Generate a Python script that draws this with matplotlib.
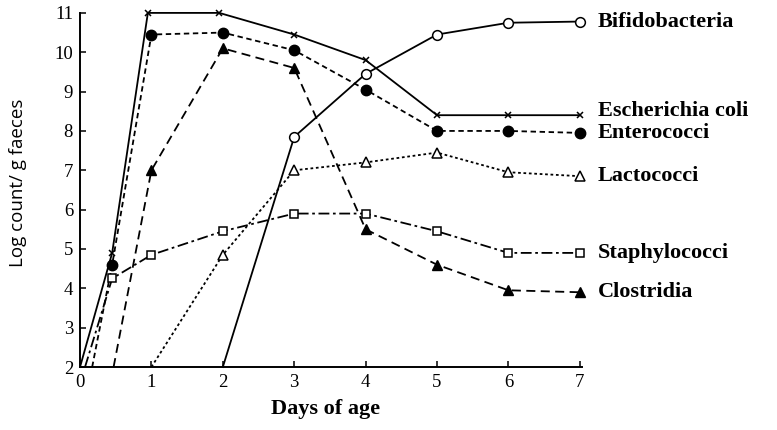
import matplotlib
matplotlib.use("Agg")
import matplotlib.pyplot as plt

plt.rcParams["font.family"] = ["Liberation Serif", "DejaVu Serif"]

# values (log count / g faeces)
bifido_x = [2, 3, 4, 5, 6, 7]
bifido_y = [2.0, 7.85, 9.45, 10.45, 10.75, 10.78]

ecoli_x = [0, 0.45, 0.95, 1.95, 3, 4, 5, 6, 7]
ecoli_y = [2.0, 4.9, 11.0, 11.0, 10.45, 9.8, 8.4, 8.4, 8.4]

entero_x = [0.17, 0.45, 1, 2, 3, 4, 5, 6, 7]
entero_y = [2.0, 4.6, 10.45, 10.5, 10.05, 9.05, 8.0, 8.0, 7.95]

lacto_x = [1, 2, 3, 4, 5, 6, 7]
lacto_y = [2.0, 4.85, 7.0, 7.2, 7.45, 6.95, 6.85]

staph_x = [0.07, 0.45, 1, 2, 3, 4, 5, 6, 7]
staph_y = [2.0, 4.25, 4.85, 5.45, 5.9, 5.9, 5.45, 4.9, 4.9]

clos_x = [0.47, 1, 2, 3, 4, 5, 6, 7]
clos_y = [2.0, 7.0, 10.1, 9.6, 5.5, 4.6, 3.95, 3.9]

names = ["Bifidobacteria", "Escherichia coli", "Enterococci",
         "Lactococci", "Staphylococci", "Clostridia"]

fig = plt.figure(figsize=(7.77, 4.30), dpi=100)
ax = fig.add_axes([0.103, 0.1465, 0.646, 0.8235])

# no marker where a curve leaves the x axis
k = dict(color="black", lw=1.3, clip_on=False, markevery=slice(1, None))
ax.plot(bifido_x, bifido_y, "-", marker="o", ms=7, mfc="white", mew=1.1, **k)
ax.plot(ecoli_x, ecoli_y, "-", marker="x", ms=5, mew=1.1, **k)
ax.plot(entero_x, entero_y, marker="o", ms=7.5, dashes=(3, 2), **k)
ax.plot(lacto_x, lacto_y, marker="^", ms=6.5, mfc="white", mew=1.1, dashes=(1.5, 1.5), **k)
ax.plot(staph_x, staph_y, marker="s", ms=5.5, mfc="white", mew=1.1, dashes=(6, 2, 1.5, 2), **k)
ax.plot(clos_x, clos_y, marker="^", ms=7, dashes=(5, 3), **k)

# series labels at the right end
last = [bifido_y[-1], ecoli_y[-1], entero_y[-1], lacto_y[-1], staph_y[-1], clos_y[-1]]
shift = [0, 3, 0, 0, 0, 0]
for name, yv, dy in zip(names, last, shift):
    ax.annotate(name, (7, yv), xytext=(13, dy), textcoords="offset points",
                ha="left", va="center", fontsize=16, fontweight="bold",
                annotation_clip=False)

ax.set_xlim(0, 7.03)
ax.set_ylim(2, 11)
ax.set_xticks(range(0, 8))
ax.set_yticks(range(2, 12))
ax.spines["top"].set_visible(False)
ax.spines["right"].set_visible(False)
ax.spines["left"].set_linewidth(1.4)
ax.spines["bottom"].set_linewidth(1.4)
ax.tick_params(direction="in", length=4, width=1.1, labelsize=13.5, pad=5)

ax.set_xlabel("Days of age", fontsize=16, fontweight="bold")
ax.xaxis.set_label_coords(0.49, -0.09)
ax.set_ylabel("Log count/ g faeces", fontsize=13.5, family=["Open Sans", "DejaVu Sans"])
ax.yaxis.set_label_coords(-0.105, 0.52)

fig.savefig("out.png", dpi=100)
